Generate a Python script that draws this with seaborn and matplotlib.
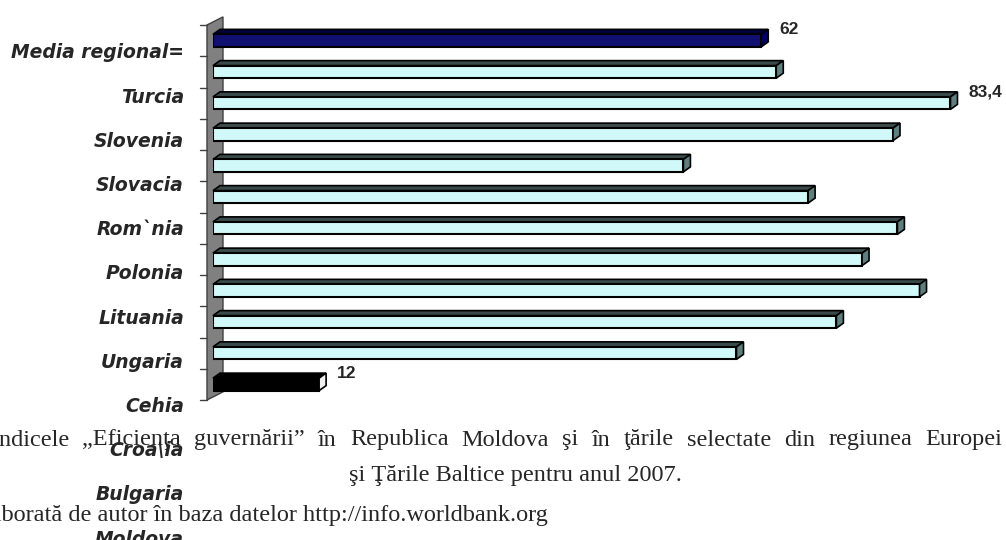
import matplotlib
matplotlib.use("Agg")
import matplotlib.pyplot as plt
from matplotlib.patches import Polygon
import seaborn as sns

# data (top bar first)
countries = ["Media regional=", "Turcia", "Slovenia", "Slovacia", "Rom`nia",
             "Polonia", "Lituania", "Ungaria", "Cehia", "Croa\\ia",
             "Bulgaria", "Moldova"]
scores = [62, 63.7, 83.4, 76.9, 53.2, 67.3, 77.4, 73.4, 79.9, 70.5, 59.2, 12]
value_labels = ["62", "", "83,4", "", "", "", "", "", "", "", "", "12"]

caption_1 = "Indicele \u201eEficienţa guvernării\u201d în Republica Moldova şi în ţările selectate din regiunea Europei"
caption_2 = "şi Ţările Baltice pentru anul 2007."
caption_3 = "Sursa: elaborată de autor în baza datelor http://info.worldbank.org"

# colours of the 3D faces
front_cols = ["#000080"] + ["#CCFFFF"] * 10 + ["#000000"]
top_cols = ["#000040"] + ["#3A4A4A"] * 10 + ["#000000"]
side_cols = ["#000060"] + ["#5F7F7F"] * 10 + ["#F0F0F0"]

sns.set_style("white")

fig = plt.figure(figsize=(10.06, 5.4), dpi=100)
ax = fig.add_axes([213 / 1006, 140 / 540, 787 / 1006, 375 / 540])

sns.barplot(
    x=scores,
    y=countries,
    hue=countries,
    palette=front_cols,
    orient="h",
    width=0.4,
    edgecolor="black",
    linewidth=1.5,
    legend=False,
    ax=ax,
    zorder=3,
)

ax.set_xlim(0, 89)
ax.set_ylim(len(countries) - 0.5, -0.5)
for s in ax.spines.values():
    s.set_visible(False)
ax.set_xticks([])
ax.set_yticks([])
ax.set_xlabel("")
ax.set_ylabel("")

# depth of the 3D effect in data units
dx = 0.79
dy = -0.16

# grey side wall and tick marks
wl, wr = -0.68, 1.13
y_top, y_bot = -0.5, len(countries) - 0.5
wall = Polygon(
    [(wl, y_top), (wr, y_top - 0.26), (wr, y_bot - 0.26), (wl, y_bot)],
    closed=True, facecolor="#808080", edgecolor="#404040", lw=1,
    clip_on=False, zorder=1,
)
ax.add_patch(wall)
for k in range(len(countries) + 1):
    ax.plot([wl - 0.8, wl], [k - 0.5, k - 0.5], color="#404040", lw=1,
            clip_on=False, zorder=1)

# top and side faces of every bar
for i, p in enumerate(ax.patches[:len(scores)]):
    x0, y0 = p.get_x(), p.get_y()
    w, h = p.get_width(), p.get_height()
    top = Polygon([(x0, y0), (x0 + w, y0), (x0 + w + dx, y0 + dy), (x0 + dx, y0 + dy)],
                  closed=True, facecolor=top_cols[i], edgecolor="black", lw=1.2,
                  zorder=2, clip_on=False)
    side = Polygon([(x0 + w, y0), (x0 + w + dx, y0 + dy),
                    (x0 + w + dx, y0 + h + dy), (x0 + w, y0 + h)],
                   closed=True, facecolor=side_cols[i], edgecolor="black", lw=1.2,
                   zorder=4, clip_on=False)
    ax.add_patch(top)
    ax.add_patch(side)
    if value_labels[i]:
        ax.annotate(value_labels[i], (x0 + w, y0 + h / 2), xytext=(13, 8),
                    textcoords="offset points", ha="left", va="center",
                    fontsize=12.5, fontweight="bold", family="Liberation Sans",
                    annotation_clip=False)

# category names, drawn with a wider step than the bars (as in the source)
label_start = 0.396
label_step = 1.414
for i, name in enumerate(countries):
    ax.text(-0.037, label_start + i * label_step, name,
            transform=ax.get_yaxis_transform(), ha="right", va="center",
            fontsize=13.5, fontweight="bold", fontstyle="italic",
            family="DejaVu Sans", clip_on=False)

# document caption under the chart; first line is justified
cap_font = dict(fontsize=17.5, family="Liberation Serif", va="center")
renderer = fig.canvas.get_renderer()
words = caption_1.split()
widths = []
for wd in words:
    t = fig.text(0, 0, wd, **cap_font)
    widths.append(t.get_window_extent(renderer).width)
    t.remove()
x_left, x_right = -9, 1002
gap = (x_right - x_left - sum(widths)) / (len(words) - 1)
xpos = x_left
for wd, wpx in zip(words, widths):
    fig.text(xpos / 1006, 1 - 440 / 540, wd, ha="left", **cap_font)
    xpos += wpx + gap

fig.text(515 / 1006, 1 - 475 / 540, caption_2, ha="center", **cap_font)
fig.text(548 / 1006, 1 - 516 / 540, caption_3, ha="right", **cap_font)

fig.savefig("out.png", dpi=100)
